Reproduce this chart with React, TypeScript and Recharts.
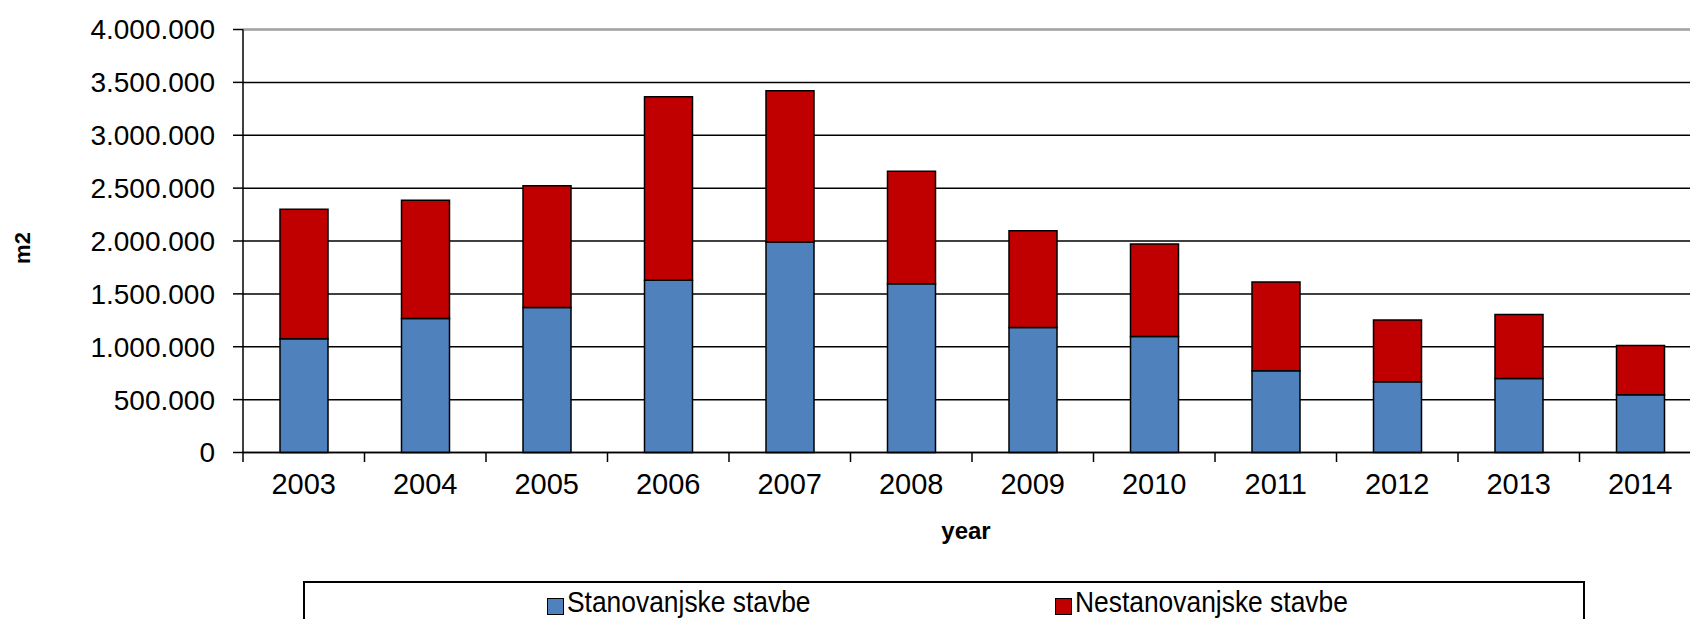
import React from 'react';
import { BarChart, Bar, XAxis, YAxis, CartesianGrid, Legend, ReferenceLine } from 'recharts';

const years = ['2003', '2004', '2005', '2006', '2007', '2008', '2009', '2010', '2011', '2012', '2013', '2014'];
const residential = [1075000, 1268000, 1372000, 1628000, 1990000, 1596000, 1183000, 1098000, 772000, 668000, 700000, 545000];
const nonResidential = [1225000, 1117000, 1151000, 1735000, 1430000, 1064000, 915000, 874000, 840000, 584000, 606000, 468000];
const yTicks = [0, 500000, 1000000, 1500000, 2000000, 2500000, 3000000, 3500000, 4000000];
const seriesNames = ['Stanovanjske stavbe', 'Nestanovanjske stavbe'];
const seriesColors = ['#4F81BD', '#C00000'];
const xTitle = 'year';
const yTitle = 'm2';

const data = years.map((year, i) => ({ year, res: residential[i], non: nonResidential[i] }));

const FONT = '"Liberation Sans", Arial, sans-serif';
const fmt = (v: number) => String(v).replace(/\B(?=(\d{3})+(?!\d))/g, '.');

const TICK_MARGIN = 21;
const TICK_LEN = 9.5;

const XTick = (props: any) => {
  const { x, y, payload } = props;
  const half = (payload && payload.offset) || 0;
  const axisY = y - TICK_MARGIN;
  return (
    <g>
      <line x1={x - half} y1={axisY} x2={x - half} y2={axisY + TICK_LEN} stroke="#000" strokeWidth={1.5} />
      <text x={x} y={y} dy="0.71em" textAnchor="middle" fontFamily={FONT} fontSize={29} fill="#000">
        {payload.value}
      </text>
    </g>
  );
};

const LegendBox = (props: any) => {
  const payload = props.payload || [];
  const ordered = seriesNames
    .map((n) => payload.find((p: any) => p.value === n))
    .filter(Boolean);
  return (
    <div
      style={{
        boxSizing: 'border-box',
        width: 1282,
        height: 60,
        border: '2px solid #000',
        background: '#fff',
        display: 'flex',
        paddingLeft: 241.7,
        fontFamily: FONT,
        overflow: 'hidden',
      }}
    >
      {ordered.map((p: any, i: number) => (
        <div
          key={i}
          style={{ display: 'flex', alignItems: 'flex-start', flexShrink: 0, width: i === 0 ? 508.3 : 400 }}
        >
          <div
            style={{
              boxSizing: 'border-box',
              flexShrink: 0,
              width: 17,
              height: 17,
              marginTop: 15.8,
              background: p.color,
              border: '1px solid #000',
            }}
          />
          <div
            style={{
              flexShrink: 0,
              marginLeft: 3,
              marginTop: 5.6,
              fontSize: 29,
              lineHeight: '29px',
              color: '#000',
              whiteSpace: 'nowrap',
              transform: 'scaleX(0.91)',
              transformOrigin: 'left',
            }}
          >
            {p.value}
          </div>
        </div>
      ))}
    </div>
  );
};

export default function App() {
  return (
    <div style={{ position: 'absolute', left: 0, top: 0, width: 1690, height: 619, overflow: 'hidden', background: '#fff' }}>
      <BarChart
        width={1710}
        height={619}
        data={data}
        margin={{ top: 29.5, right: 9, bottom: 0, left: 0 }}
        barSize={48}
        barCategoryGap={0}
      >
        <CartesianGrid vertical={false} stroke="#000" strokeWidth={1.5} strokeOpacity={1} />
        <ReferenceLine y={4000000} stroke="#a6a6a6" strokeWidth={2} />
        <XAxis
          dataKey="year"
          height={166.5}
          axisLine={{ stroke: '#000', strokeWidth: 1.5 }}
          tickLine={false}
          tickSize={0}
          tickMargin={TICK_MARGIN}
          interval={0}
          tick={<XTick />}
          label={{
            content: (p: any) => {
              const vb = p.viewBox || {};
              return (
                <text
                  x={vb.x + vb.width / 2 - 6}
                  y={vb.y + 86.8}
                  textAnchor="middle"
                  fontFamily={FONT}
                  fontWeight="bold"
                  fontSize={24}
                  fill="#000"
                >
                  {xTitle}
                </text>
              );
            },
          }}
        />
        <YAxis
          width={243}
          domain={[0, 4000000]}
          ticks={yTicks}
          interval={0}
          tickSize={10}
          tickMargin={18}
          tickFormatter={fmt}
          axisLine={{ stroke: '#000', strokeWidth: 1.5 }}
          tickLine={{ stroke: '#000', strokeWidth: 1.5 }}
          tick={{ fill: '#000', fontSize: 28, fontFamily: FONT }}
          label={{
            content: (p: any) => {
              const vb = p.viewBox || {};
              const cx = 30;
              const cy = vb.y + vb.height / 2 + 7;
              return (
                <text
                  x={cx}
                  y={cy}
                  transform={`rotate(-90, ${cx}, ${cy})`}
                  textAnchor="middle"
                  fontFamily={FONT}
                  fontWeight="bold"
                  fontSize={22}
                  fill="#000"
                >
                  {yTitle}
                </text>
              );
            },
          }}
        />
        <Bar
          dataKey="res"
          name={seriesNames[0]}
          stackId="a"
          fill={seriesColors[0]}
          stroke="#000"
          strokeWidth={1.5}
          isAnimationActive={false}
        />
        <Bar
          dataKey="non"
          name={seriesNames[1]}
          stackId="a"
          fill={seriesColors[1]}
          stroke="#000"
          strokeWidth={1.5}
          isAnimationActive={false}
        />
        <Legend
          layout="horizontal"
          verticalAlign="middle"
          align="center"
          wrapperStyle={{ position: 'absolute', left: 303, top: 580.5, width: 1282, height: 60, margin: 0, padding: 0 }}
          content={(p: any) => <LegendBox {...p} />}
        />
      </BarChart>
    </div>
  );
}
